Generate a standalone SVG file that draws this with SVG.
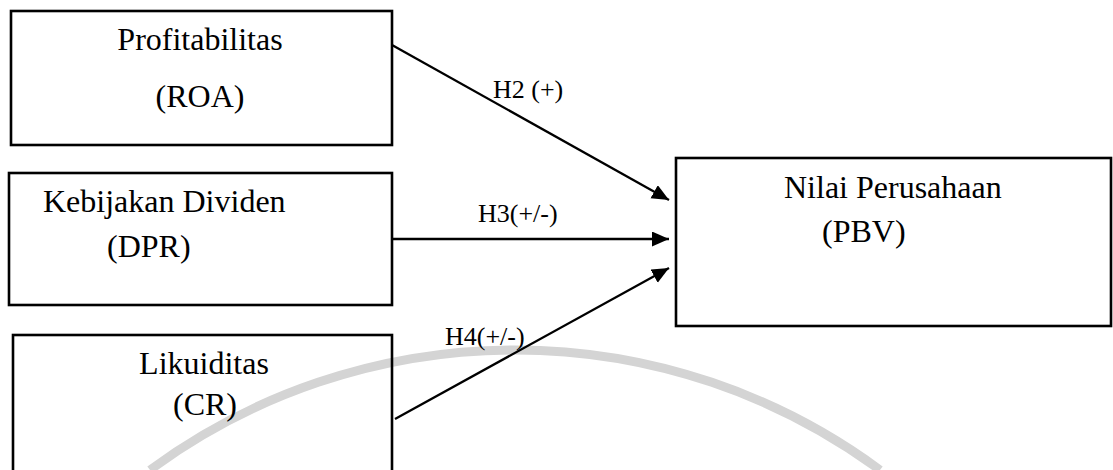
<svg xmlns="http://www.w3.org/2000/svg" width="1113" height="470" viewBox="0 0 1113 470">
<style>
.box{fill:none;stroke:#000;stroke-width:2.6}
.t{font-family:"Liberation Serif","Times New Roman",serif;font-size:32px;fill:#000}
.lbl{font-family:"Liberation Serif","Times New Roman",serif;font-size:26px;fill:#000}
.con{stroke:#000;stroke-width:2.3;fill:none}
.wm{fill:none;stroke:#d4d4d4;stroke-width:9}
</style>
<defs>
<marker id="arr" markerUnits="userSpaceOnUse" markerWidth="18" markerHeight="16" refX="17" refY="7.5" orient="auto">
<path d="M0,0 L17,7.5 L0,15 Z" fill="#000"/>
</marker>
</defs>
<rect width="1113" height="470" fill="#fff"/>
<g id="watermark">
<path class="wm" d="M150,470 A615,615 0 0 1 880,470"/>
</g>
<g id="node-roa">
<rect class="box" x="11" y="11" width="381" height="134"/>
<text class="t" x="200" y="50" text-anchor="middle">Profitabilitas</text>
<text class="t" x="200" y="107" text-anchor="middle">(ROA)</text>
</g>
<g id="node-dpr">
<rect class="box" x="9" y="173" width="383" height="132"/>
<text class="t" x="43" y="212">Kebijakan Dividen</text>
<text class="t" x="107" y="257">(DPR)</text>
</g>
<g id="node-cr">
<rect class="box" x="13" y="335" width="379" height="150"/>
<text class="t" x="204" y="374" text-anchor="middle">Likuiditas</text>
<text class="t" x="205" y="415" text-anchor="middle">(CR)</text>
</g>
<g id="node-pbv">
<rect class="box" x="676" y="158" width="435" height="168"/>
<text class="t" x="784" y="198">Nilai Perusahaan</text>
<text class="t" x="822" y="242">(PBV)</text>
</g>
<g id="connectors">
<line class="con" x1="392" y1="45" x2="669" y2="200" marker-end="url(#arr)"/>
<line class="con" x1="392" y1="239" x2="669" y2="239" marker-end="url(#arr)"/>
<line class="con" x1="395" y1="419" x2="669" y2="268" marker-end="url(#arr)"/>
<text class="lbl" x="493" y="98">H2 (+)</text>
<text class="lbl" x="478" y="222">H3(+/-)</text>
<text class="lbl" x="445" y="345">H4(+/-)</text>
</g>
</svg>
